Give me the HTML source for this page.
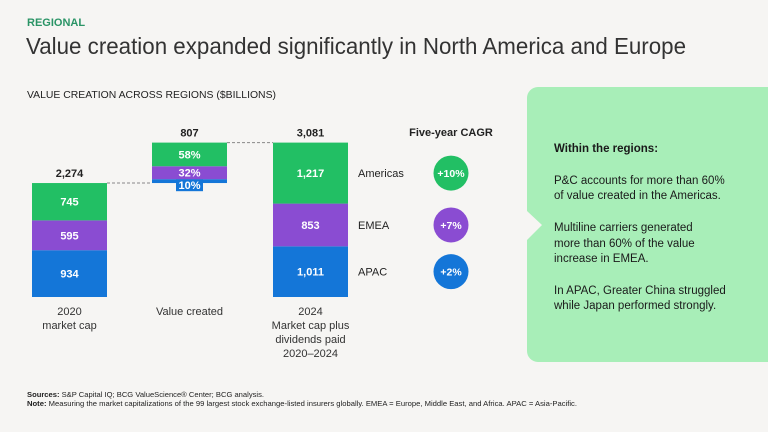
<!DOCTYPE html>
<html><head><meta charset="utf-8"><style>
html,body{margin:0;padding:0;background:#f6f5f3;}
body{width:768px;height:432px;overflow:hidden;position:relative;font-family:"Liberation Sans",sans-serif;}
svg{position:absolute;left:0;top:0;}
</style></head><body>
<svg id="chart" width="768" height="432" xmlns="http://www.w3.org/2000/svg" font-family="Liberation Sans, sans-serif">
<text x="27" y="26" font-size="11" font-weight="bold" fill="#2a9466">REGIONAL</text>
<text x="26" y="54" font-size="23" fill="#333" font-weight="300" textLength="660" lengthAdjust="spacingAndGlyphs">Value creation expanded significantly in North America and Europe</text>
<text x="27" y="98" font-size="10" fill="#222" textLength="249" lengthAdjust="spacingAndGlyphs">VALUE CREATION ACROSS REGIONS ($BILLIONS)</text>
<g>
<rect x="527" y="87" width="260" height="275" rx="11" fill="#a8eeb8"/>
<polygon points="527,211 542,225 527,240" fill="#f6f5f3"/>
<text font-size="11.5" fill="#1a1a1a">
<tspan x="554" y="152" font-weight="bold">Within the regions:</tspan>
<tspan x="554" y="184">P&amp;C accounts for more than 60%</tspan>
<tspan x="554" y="199">of value created in the Americas.</tspan>
<tspan x="554" y="231">Multiline carriers generated</tspan>
<tspan x="554" y="247">more than 60% of the value</tspan>
<tspan x="554" y="262">increase in EMEA.</tspan>
<tspan x="554" y="294">In APAC, Greater China struggled</tspan>
<tspan x="554" y="309">while Japan performed strongly.</tspan>
</text></g>
<g id="bars"></g>
<g font-size="7.3" fill="#222" font-family="Liberation Sans, sans-serif">
<text x="27" y="397" textLength="237" lengthAdjust="spacingAndGlyphs"><tspan font-weight="bold">Sources:</tspan> S&amp;P Capital IQ; BCG ValueScience® Center; BCG analysis.</text>
<text x="27" y="406" textLength="550" lengthAdjust="spacingAndGlyphs"><tspan font-weight="bold">Note:</tspan> Measuring the market capitalizations of the 99 largest stock exchange-listed insurers globally. EMEA = Europe, Middle East, and Africa. APAC = Asia-Pacific.</text>
</g>
</svg>
<script>
const regions = ["APAC","EMEA","Americas"];
const start2020 = [934, 595, 745];
const end2024 = [1011, 853, 1217];
const createdShare = ["10%","32%","58%"];
const cagr = ["+2%","+7%","+10%"];
const colors = ["#1476d8","#8a4cd2","#22bf64"];
const fmt = v => v.toLocaleString("en-US");
const base = 297, scale = 154.4/3081;
const y = v => base - v*scale;
const NS = "http://www.w3.org/2000/svg";
const g = document.getElementById("bars");
function mk(tag, attrs, text){const e=document.createElementNS(NS,tag);for(const k in attrs)e.setAttribute(k,attrs[k]);if(text!==undefined)e.textContent=text;g.appendChild(e);return e;}
const total20 = start2020.reduce((a,b)=>a+b,0), total24 = end2024.reduce((a,b)=>a+b,0);
const created = end2024.map((v,i)=>v-start2020[i]);
const totalC = created.reduce((a,b)=>a+b,0);
let acc=0;
start2020.forEach((v,i)=>{const r=mk("rect",{x:32,y:y(acc+v),width:75,height:v*scale,fill:colors[i]});


const t=mk("text",{x:69.5,y:y(acc+v/2)+4,"text-anchor":"middle","font-size":"11","font-weight":"bold",fill:"#fff"},fmt(v));


acc+=v;});
const t1=mk("text",{x:69.5,y:y(total20)-6,"text-anchor":"middle","font-size":"11","font-weight":"bold",fill:"#222"},fmt(total20));


acc=total20;
created.forEach((v,i)=>{const r=mk("rect",{x:152,y:y(acc+v),width:75,height:v*scale,fill:colors[i]});


let cy=y(acc+v/2)+4;
if(i===0){const bx=mk("rect",{x:176,y:y(acc+v),width:27,height:12,fill:colors[0]});cy=y(acc+v)+10;}
const t=mk("text",{x:189.5,y:cy,"text-anchor":"middle","font-size":"11","font-weight":"bold",fill:"#fff"},createdShare[i]);


acc+=v;});
const t2=mk("text",{x:189.5,y:y(total20+totalC)-6,"text-anchor":"middle","font-size":"11","font-weight":"bold",fill:"#222"},fmt(totalC));


acc=0;
end2024.forEach((v,i)=>{const r=mk("rect",{x:273,y:y(acc+v),width:75,height:v*scale,fill:colors[i]});


const cy=y(acc+v/2);
const t=mk("text",{x:310.5,y:cy+4,"text-anchor":"middle","font-size":"11","font-weight":"bold",fill:"#fff"},fmt(v));


const l=mk("text",{x:358,y:cy+4,"font-size":"11",fill:"#222"},regions[i]);


const c=mk("circle",{cx:451,cy:cy,r:17.5,fill:colors[i]});


const ct=mk("text",{x:451,y:cy+4,"text-anchor":"middle","font-size":"10.5","font-weight":"bold",fill:"#fff"},cagr[i]);


acc+=v;});
const t3=mk("text",{x:310.5,y:y(total24)-6,"text-anchor":"middle","font-size":"11","font-weight":"bold",fill:"#222"},fmt(total24));


const h=mk("text",{x:451,y:136,"text-anchor":"middle","font-size":"11","font-weight":"bold",fill:"#222"},"Five-year CAGR");


const c1=mk("line",{x1:107,x2:152,y1:y(total20),y2:y(total20),stroke:"#888","stroke-dasharray":"3,2","stroke-width":"1"});


const c2=mk("line",{x1:227,x2:273,y1:y(total20+totalC),y2:y(total20+totalC),stroke:"#888","stroke-dasharray":"3,2","stroke-width":"1"});


const cats=[[69.5,["2020","market cap"]],[189.5,["Value created"]],[310.5,["2024","Market cap plus","dividends paid","2020–2024"]]];
cats.forEach((c,k)=>{c[1].forEach((s,j)=>{const t=mk("text",{x:c[0],y:315+j*14,"text-anchor":"middle","font-size":"11",fill:"#333"},s);

});});
</script>
</body></html>
